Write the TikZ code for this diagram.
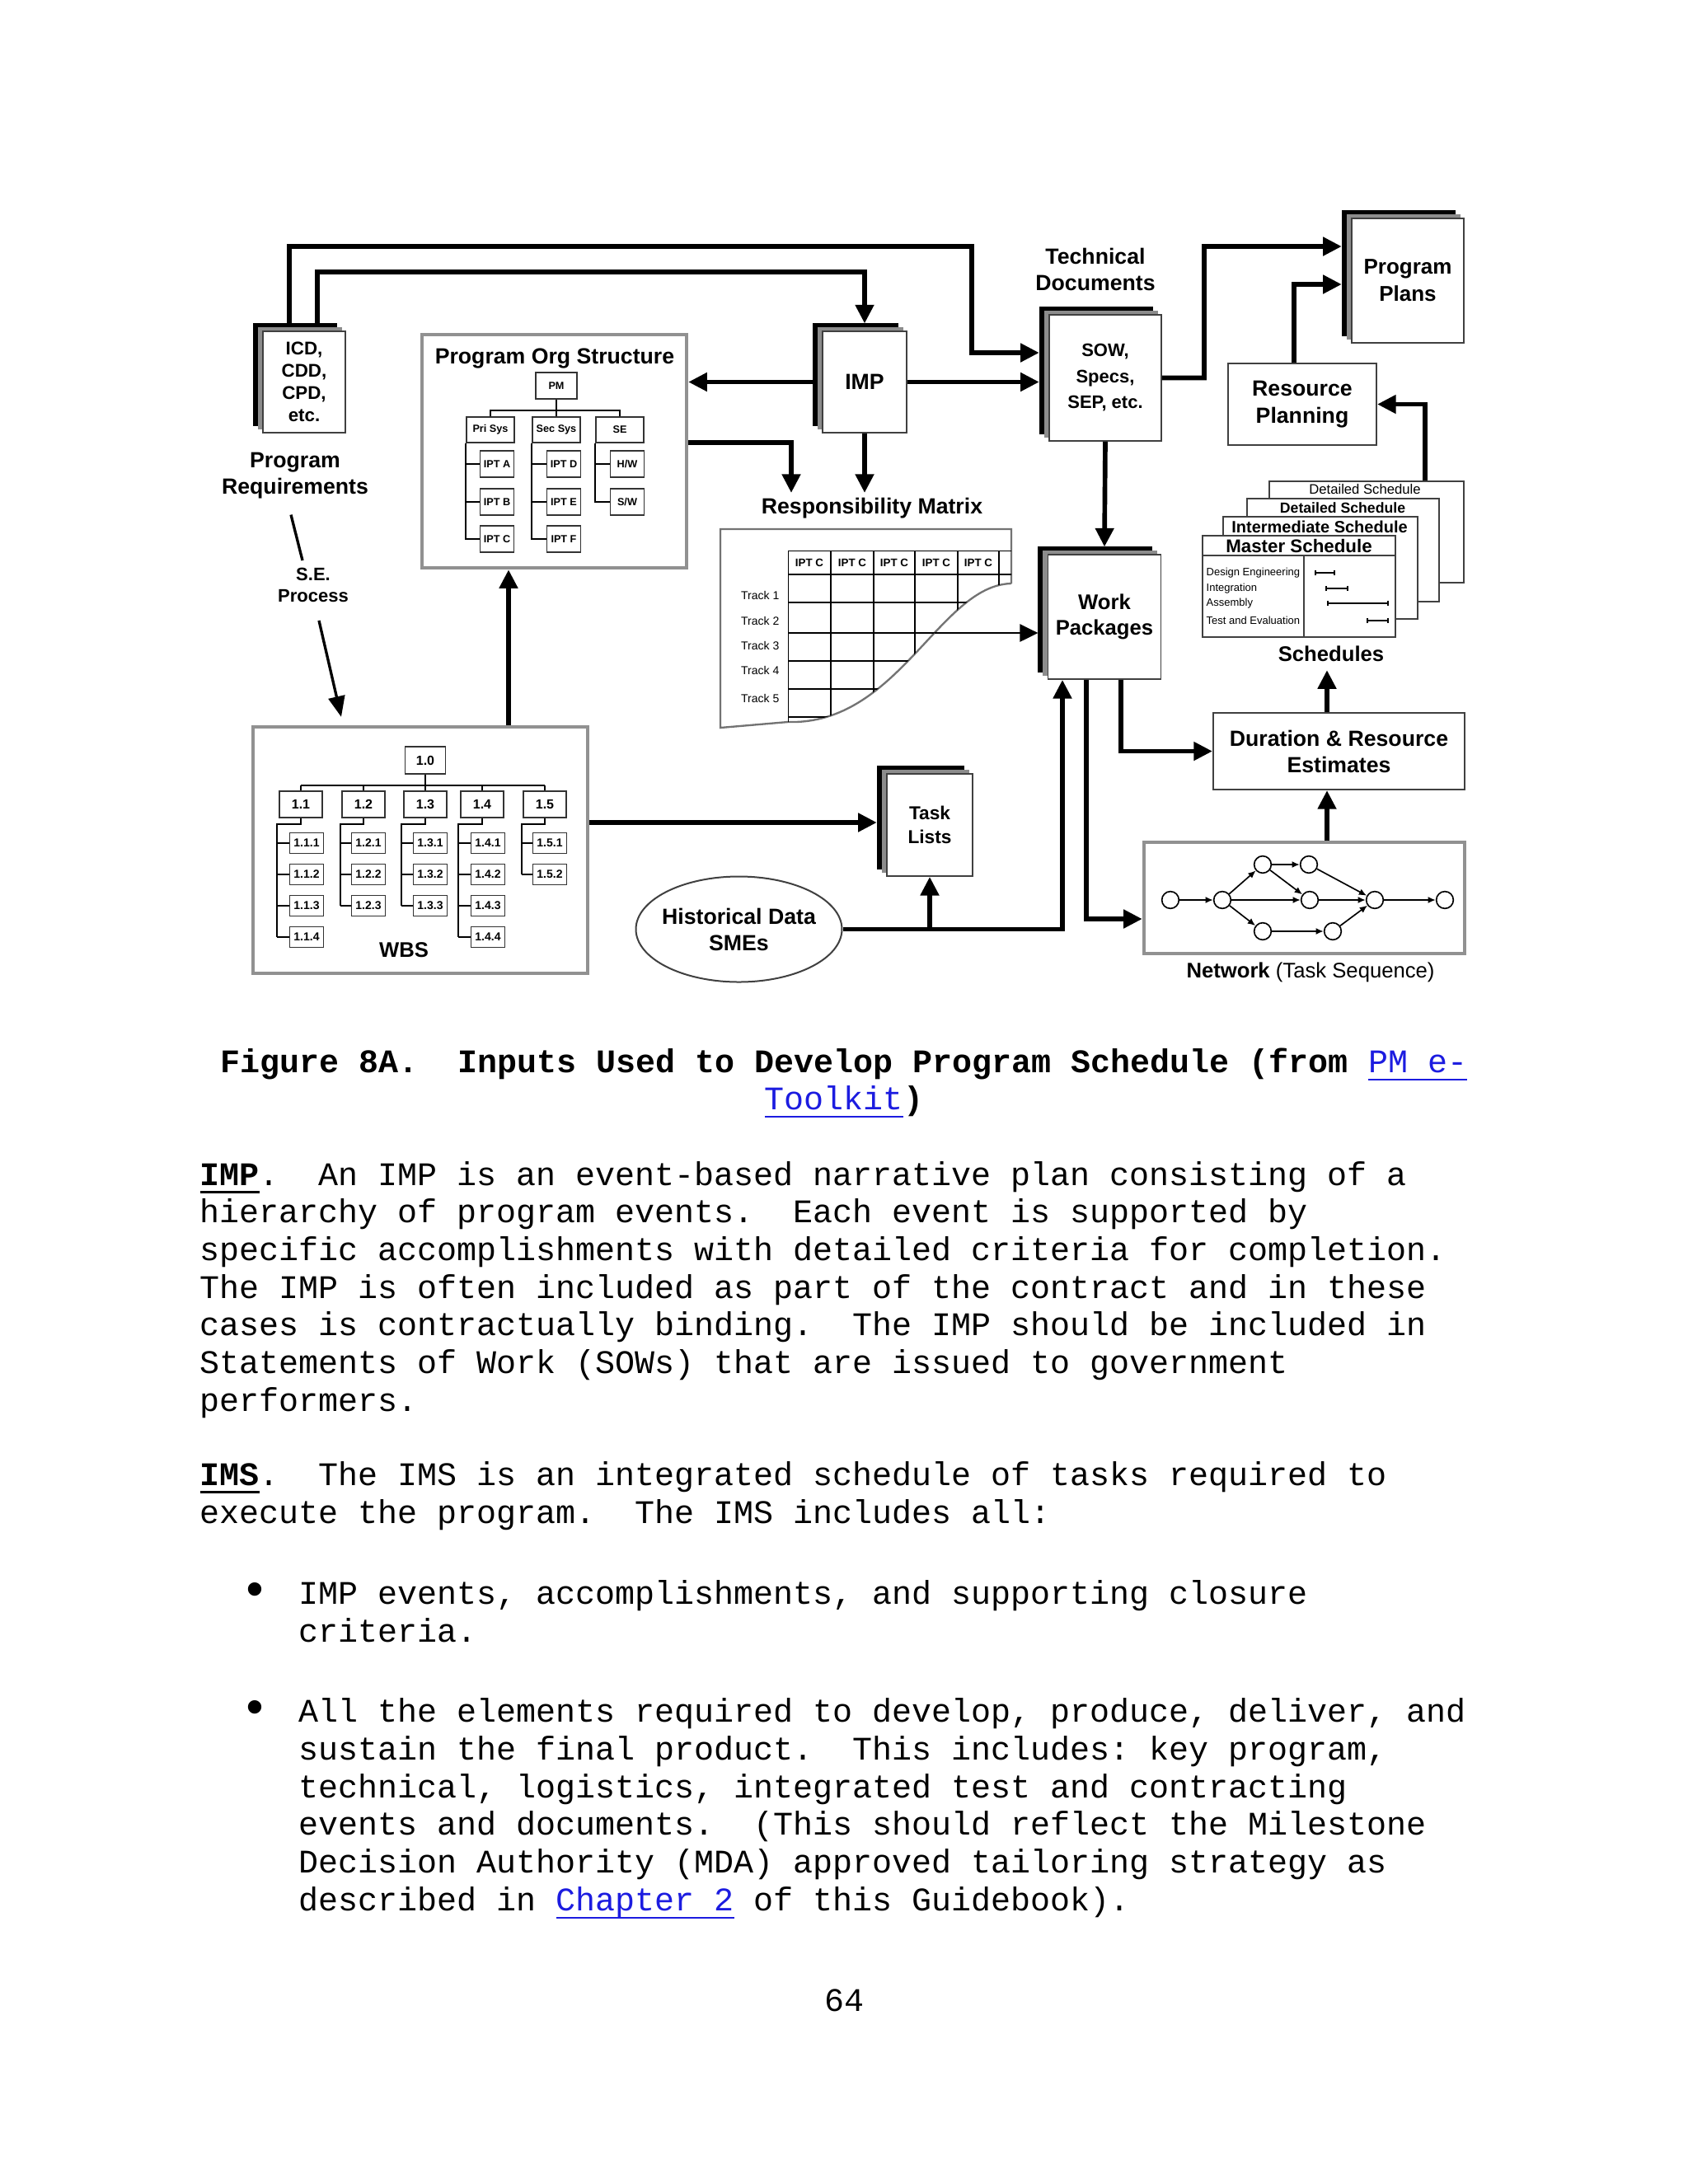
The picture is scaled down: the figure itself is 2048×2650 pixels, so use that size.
\documentclass[tikz,border=0pt]{standalone}
\usepackage{fontspec}
\setmonofont{Liberation Mono}
\newfontfamily\arialf{Liberation Sans}
\usetikzlibrary{arrows.meta,shadows,shapes.geometric}
\definecolor{linkblue}{RGB}{28,28,224}
\definecolor{framegray}{RGB}{145,145,145}
\newcommand{\undr}[2][0.6pt]{\setbox0=\hbox{#2}\rlap{\rule[-3pt]{\wd0}{#1}}\box0}
\newcommand{\dfs}[2]{\arialf\bfseries\fontsize{#1}{#2}\selectfont}

\tikzset{
  flow/.style={line width=1.7pt, -{Triangle[length=6.8pt,width=6.5pt]}},
  thinflow/.style={line width=0.6pt, -{Triangle[length=6.6pt,width=6.4pt]}},
  docstack/.style={draw=black!75, line width=0.5pt, fill=white, inner sep=0pt, align=center,
    copy shadow={shadow xshift=-3.4pt, shadow yshift=2.8pt, draw=black, fill=black},
    copy shadow={shadow xshift=-1.6pt, shadow yshift=1.4pt, draw=black!45, fill=black!45}},
  plainbox/.style={draw=black!75, line width=0.6pt, fill=white, inner sep=0pt, align=center},
  grayframe/.style={draw=framegray, line width=1.3pt, inner sep=0pt},
  lbl/.style={font=\dfs{8}{9.6}, align=center, inner sep=0pt},
  orgbox/.style={draw=black!80, line width=0.5pt, inner sep=0pt, font=\dfs{3.8}{4}},
  wbsbox/.style={draw=black!80, line width=0.5pt, inner sep=0pt, font=\dfs{4.8}{5}},
  sheet/.style={draw=black!75, line width=0.6pt, fill=white, inner sep=0pt},
  netnode/.style={circle, draw, line width=0.5pt, fill=white, inner sep=0pt, minimum size=6.2pt},
  netarr/.style={line width=0.5pt, -{Latex[length=2.8pt,width=2.4pt]}},
  body/.style={font=\ttfamily\fontsize{12}{13.7}\selectfont, anchor=base west, inner sep=0pt},
}

\begin{document}
\frenchspacing
\begin{tikzpicture}[x=0.3pt, y=-0.3pt]
\useasboundingbox (0,0) rectangle (2048,2650);
\fill[white] (0,0) rectangle (2048,2650);

% document stacks
\node[docstack, minimum width=30pt, minimum height=36.9pt, font=\dfs{6.7}{8.1}] (icd) at (369,463.5) {ICD,\\CDD,\\CPD,\\etc.};
\node[docstack, minimum width=30.6pt, minimum height=36.9pt, font=\dfs{8}{9.6}] (imp) at (1049,463.5) {IMP};
\node[docstack, minimum width=40.8pt, minimum height=45.9pt, font=\dfs{6.6}{9.45}] (tech) at (1341,458.5) {SOW,\\Specs,\\SEP, etc.};
\node[docstack, minimum width=41.1pt, minimum height=45.3pt, font=\dfs{7.7}{9.3}] (wp) at (1340,748.5) {Work\\Packages};
\node[docstack, minimum width=40.8pt, minimum height=45.3pt, font=\dfs{7.8}{9.9}] (plans) at (1708,340.5) {Program\\Plans};
\node[docstack, minimum width=31.2pt, minimum height=37.2pt, font=\dfs{6.8}{8.7}] (task) at (1128,1001) {Task\\Lists};

% boxes
\node[plainbox, minimum width=54pt, minimum height=29.7pt, font=\dfs{8}{9.9}] (rp) at (1580,490.5) {Resource\\Planning};
\node[plainbox, minimum width=91.5pt, minimum height=27.9pt, font=\dfs{8}{9.6}] (dur) at (1624.5,911.5) {Duration \& Resource\\Estimates};
\node[ellipse, draw=black!75, line width=0.6pt, minimum width=75pt, minimum height=38.4pt, inner sep=0pt] (hist) at (896.5,1127.5) {};
\node[lbl] (histtxt) at (hist) {Historical Data\\SMEs};

% gray frames
\node[grayframe, minimum width=96.3pt, minimum height=84.9pt] (org) at (672.5,547.5) {};
\node[grayframe, minimum width=121.8pt, minimum height=89.7pt] (wbs) at (510,1031.5) {};
\node[grayframe, minimum width=116.7pt, minimum height=40.5pt] (net) at (1582.5,1089.5) {};

% labels
\node[lbl] (progreq) at (358,577) {Program\\Requirements};
\node[lbl, font=\dfs{6.6}{7.8}] (seproc) at (380,709.5) {S.E.\\Process};
\node[lbl] (techlbl) at (1329,327) {Technical\\Documents};
\node[lbl] (resplbl) at (1058,617) {Responsibility Matrix};
\node[lbl, font=\dfs{7.7}{9}] (schedlbl) at (1615,793) {Schedules};
\node[lbl, font=\arialf\fontsize{7.7}{9}\selectfont] (netlbl) at (1590,1180) {\textbf{Network} (Task Sequence)};
\node[lbl] (orgtitle) at (673,435) {Program Org Structure};
\node[lbl, font=\dfs{7.7}{9}] (wbslbl) at (490,1153) {WBS};

% org chart
\node[orgbox, minimum width=15pt, minimum height=9.6pt] (pm) at (675,468) {PM};
\foreach \nm/\x/\t in {pri/595/Pri Sys, sec/675/Sec Sys, se/752/SE}
  \node[orgbox, minimum width=17.4pt, minimum height=9.3pt] (\nm) at (\x,521.5) {\t};
\foreach \nm/\y/\t in {ipta/563/IPT A, iptb/609/IPT B, iptc/654/IPT C}
  \node[orgbox, minimum width=12.3pt, minimum height=9.6pt] (\nm) at (603,\y) {\t};
\foreach \nm/\y/\t in {iptd/563/IPT D, ipte/609/IPT E, iptf/654/IPT F}
  \node[orgbox, minimum width=12.3pt, minimum height=9.6pt] (\nm) at (684,\y) {\t};
\node[orgbox, minimum width=12.3pt, minimum height=9.6pt] (hw) at (761,563) {H/W};
\node[orgbox, minimum width=12.3pt, minimum height=9.6pt] (sw) at (761,609) {S/W};
\draw[line width=0.5pt] (pm.south) -- (675,498) (595,498) -- (752,498);
\foreach \nm in {pri,sec,se} \draw[line width=0.5pt] (\nm.north) -- ++(0,-8);
\draw[line width=0.5pt] (pri.south west) |- (iptc.west) (pri.south west |- ipta.west) -- (ipta.west) (pri.south west |- iptb.west) -- (iptb.west);
\draw[line width=0.5pt] (sec.south west) |- (iptf.west) (sec.south west |- iptd.west) -- (iptd.west) (sec.south west |- ipte.west) -- (ipte.west);
\draw[line width=0.5pt] (se.south west) |- (sw.west) (se.south west |- hw.west) -- (hw.west);

% wbs tree
\node[wbsbox, minimum width=14.7pt, minimum height=9.9pt] (l0) at (516,922.5) {1.0};
\draw[line width=0.5pt] (l0.south) -- (516,953) (365,953) -- (661,953);
\foreach \i/\cx/\sx/\kx/\n in {1/365/336/372/4, 2/441/413/447/3, 3/516/487/522/3, 4/585/556/592/4, 5/661/633/667/2} {
  \node[wbsbox, minimum width=15.6pt, minimum height=9.6pt] (l\i) at (\cx,976) {1.\i};
  \draw[line width=0.5pt] (l\i.north) -- (\cx,953);
  \draw[line width=0.5pt] (l\i.south) -- (\cx,1000) -- (\sx,1000) -- (\sx,{985+38*\n});
  \foreach \k in {1,...,\n} {
    \node[wbsbox, minimum width=12.3pt, minimum height=7.5pt, font=\dfs{4.2}{4.5}] (l\i-\k) at (\kx,{985+38*\k}) {1.\i.\k};
    \draw[line width=0.5pt] (\sx,{985+38*\k}) -- (l\i-\k.west);
  }
}

% responsibility matrix
\draw[draw=black!55, line width=0.7pt] (1227,708) -- (1227,642) -- (874,642) -- (874,883) -- (956,876) .. controls (1090,880) and (1140,710) .. (1227,708);
\begin{scope}
\clip (956,668) -- (1227,668) -- (1227,708) .. controls (1140,710) and (1090,880) .. (956,876) -- cycle;
\foreach \cx in {956,1008,1060,1110,1162,1212} \draw[line width=0.5pt] (\cx,668) -- (\cx,900);
\foreach \ry in {668,697,731,768,802,836,870} \draw[line width=0.5pt] (950,\ry) -- (1230,\ry);
\end{scope}
\foreach \cx [count=\c] in {982,1034,1085,1136,1187}
  \node[font=\dfs{4}{4}, inner sep=0pt] (ipth\c) at (\cx,683) {IPT C};
\foreach \ty [count=\r] in {722,753,783,813,847}
  \node[font=\arialf\fontsize{4.2}{4.5}\selectfont, anchor=east, inner sep=0pt] (track\r) at (946,\ty) {Track \r};

% schedules
\node[sheet, minimum width=70.8pt, minimum height=36.9pt] (s4) at (1658,645.5) {};
\node[font=\arialf\fontsize{5}{5}\selectfont, inner sep=0pt] (s4t) at (1656,594) {Detailed Schedule};
\node[sheet, minimum width=69.9pt, minimum height=37.5pt] (s3) at (1629.5,667.5) {};
\node[font=\dfs{5.3}{5.3}, inner sep=0pt] (s3t) at (1629,616) {Detailed Schedule};
\node[sheet, minimum width=70.8pt, minimum height=37.2pt] (s2) at (1602,689) {};
\node[font=\dfs{6}{6}, inner sep=0pt] (s2t) at (1601,639.5) {Intermediate Schedule};
\node[sheet, minimum width=70.2pt, minimum height=36.9pt] (s1) at (1576,711.5) {};
\node[font=\dfs{6.7}{6.7}, inner sep=0pt] (s1t) at (1576,663) {Master Schedule};
\draw[line width=0.6pt, draw=black!75] ([yshift=-7.5pt]s1.north west) -- ([yshift=-7.5pt]s1.north east);
\draw[line width=0.6pt, draw=black!75] ([xshift=37.2pt,yshift=-7.5pt]s1.north west) -- ([xshift=37.2pt]s1.south west);
\foreach \ty/\t [count=\r] in {695/Design Engineering, 714/Integration, 732/Assembly, 753/Test and Evaluation}
  \node[font=\arialf\fontsize{3.9}{4}\selectfont, anchor=west, inner sep=0pt] (row\r) at (1463,\ty) {\t};
\foreach \xa/\xb/\ty in {1595/1620/695, 1608/1636/714, 1610/1685/732, 1658/1685/753}
  \draw[line width=0.5pt, {Bar[width=2pt]}-{Bar[width=2pt]}] (\xa,\ty) -- (\xb,\ty);

% network
\foreach \n/\x/\y in {n1/1420/1092, n2/1483/1092, n3/1532/1049, n4/1588/1049, n5/1589/1092, n6/1532/1130, n7/1617/1130, n8/1668/1092, n9/1753/1092}
  \node[netnode] (\n) at (\x,\y) {};
\foreach \a/\b in {n1/n2, n2/n3, n2/n5, n2/n6, n3/n4, n3/n5, n4/n8, n5/n8, n6/n7, n7/n8, n8/n9}
  \draw[netarr] (\a) -- (\b);

% connectors
\coordinate (techback) at ([xshift=-3.4pt]tech.west);
\coordinate (wpback) at ([xshift=-3.4pt]wp.west);
\coordinate (taskback) at ([xshift=-3.4pt]task.west);
\coordinate (rmtop) at (960,598);
\coordinate (rmout) at (1134,768);
\coordinate (durtop) at ([xshift=-4.35pt]dur.north);
\coordinate (nettop) at ([xshift=8.25pt]net.north);
\coordinate (wbstop) at ([xshift=32.1pt]wbs.north);
\coordinate (wbsout) at ([yshift=10.05pt]wbs.east);

\draw[flow] ([xshift=-5.4pt,yshift=2.6pt]icd.north) |- (1179,299) |- ([xshift=-3.4pt,yshift=9.15pt]tech.west);
\draw[flow] ([xshift=4.8pt,yshift=2.6pt]icd.north) |- (1049,330) -- ([yshift=2.6pt]imp.north);
\draw[flow] ([xshift=-3.4pt]imp.west) -- (imp.west -| org.east);
\draw[flow] (imp.east) -- (imp.east -| techback);
\draw[flow] ([yshift=3.15pt]org.east) -| (rmtop);
\draw[flow] (imp.south) -- (imp.south |- rmtop);
\draw[flow] (tech.east) -| (1461,299) -- ([xshift=-3.4pt,yshift=12.45pt]plans.west);
\draw[flow] ([xshift=-3pt]rp.north) |- ([xshift=-3.4pt,yshift=-1.35pt]plans.west);
\draw[flow] ([xshift=21.3pt]s4.north) |- (rp.east);
\draw[flow] (tech.south) -- ([yshift=2.6pt]wp.north);
\draw[thinflow] (rmout) -- (rmout -| wpback);
\draw[flow] ([xshift=6pt]wp.south) |- (dur.west);
\draw[flow] ([xshift=-6.6pt]wp.south) |- ([yshift=-7.65pt]net.west);
\draw[flow] (hist.east) -| ([xshift=-15.3pt]wp.south);
\draw[flow] (hist.east -| task.south) -- (task.south);
\draw[flow, shorten >=3pt] (durtop) -- (durtop |- schedlbl.south);
\draw[flow] (nettop) -- (nettop |- dur.south);
\draw[flow] (wbstop) -- (wbstop |- org.south);
\draw[flow] (wbsout) -- (wbsout -| taskback);
\draw[line width=1pt] ([xshift=-1.5pt,yshift=-5.7pt]progreq.south) -- ([xshift=-3.9pt,yshift=2.4pt]seproc.north);
\draw[line width=1pt, -{Triangle[length=7.5pt,width=6pt]}] ([xshift=2.1pt,yshift=-6.6pt]seproc.south) -- ([xshift=-28.8pt,yshift=3pt]wbs.north);

% caption and text
\node[body, anchor=base] (cap1) at (1024,1301) {\bfseries Figure 8A.~~Inputs Used to Develop Program Schedule (from \textcolor{linkblue}{\mdseries\undr{PM e-}}};
\node[body, anchor=base] (cap2) at (1024,1346) {\textcolor{linkblue}{\undr{Toolkit}}\bfseries)};

\node[body] (b1) at (242,1438) {{\bfseries\undr[0.9pt]{IMP}}.~~An IMP is an event-based narrative plan consisting of a};
\node[body] (b2) at (242,1483.7) {hierarchy of program events.~~Each event is supported by};
\node[body] (b3) at (242,1529.3) {specific accomplishments with detailed criteria for completion.};
\node[body] (b4) at (242,1575) {The IMP is often included as part of the contract and in these};
\node[body] (b5) at (242,1620.7) {cases is contractually binding.~~The IMP should be included in};
\node[body] (b6) at (242,1666.3) {Statements of Work (SOWs) that are issued to government};
\node[body] (b7) at (242,1712) {performers.};

\node[body] (b8) at (242,1802) {{\bfseries\undr[0.9pt]{IMS}}.~~The IMS is an integrated schedule of tasks required to};
\node[body] (b9) at (242,1848) {execute the program.~~The IMS includes all:};

\node[body, anchor=base, font=\ttfamily\fontsize{18}{18}\selectfont] (dot1) at (309,1948) {•};
\node[body] (b10) at (362,1946) {IMP events, accomplishments, and supporting closure};
\node[body] (b11) at (362,1992) {criteria.};

\node[body, anchor=base, font=\ttfamily\fontsize{18}{18}\selectfont] (dot2) at (309,2091) {•};
\node[body] (b12) at (362,2089) {All the elements required to develop, produce, deliver, and};
\node[body] (b13) at (362,2135) {sustain the final product.~~This includes: key program,};
\node[body] (b14) at (362,2181) {technical, logistics, integrated test and contracting};
\node[body] (b15) at (362,2226) {events and documents.~~(This should reflect the Milestone};
\node[body] (b16) at (362,2272) {Decision Authority (MDA) approved tailoring strategy as};
\node[body] (b17) at (362,2318) {described in \textcolor{linkblue}{\undr{Chapter 2}} of this Guidebook).};

\node[body, anchor=base] (pgno) at (1024,2440) {64};
\end{tikzpicture}
\end{document}
